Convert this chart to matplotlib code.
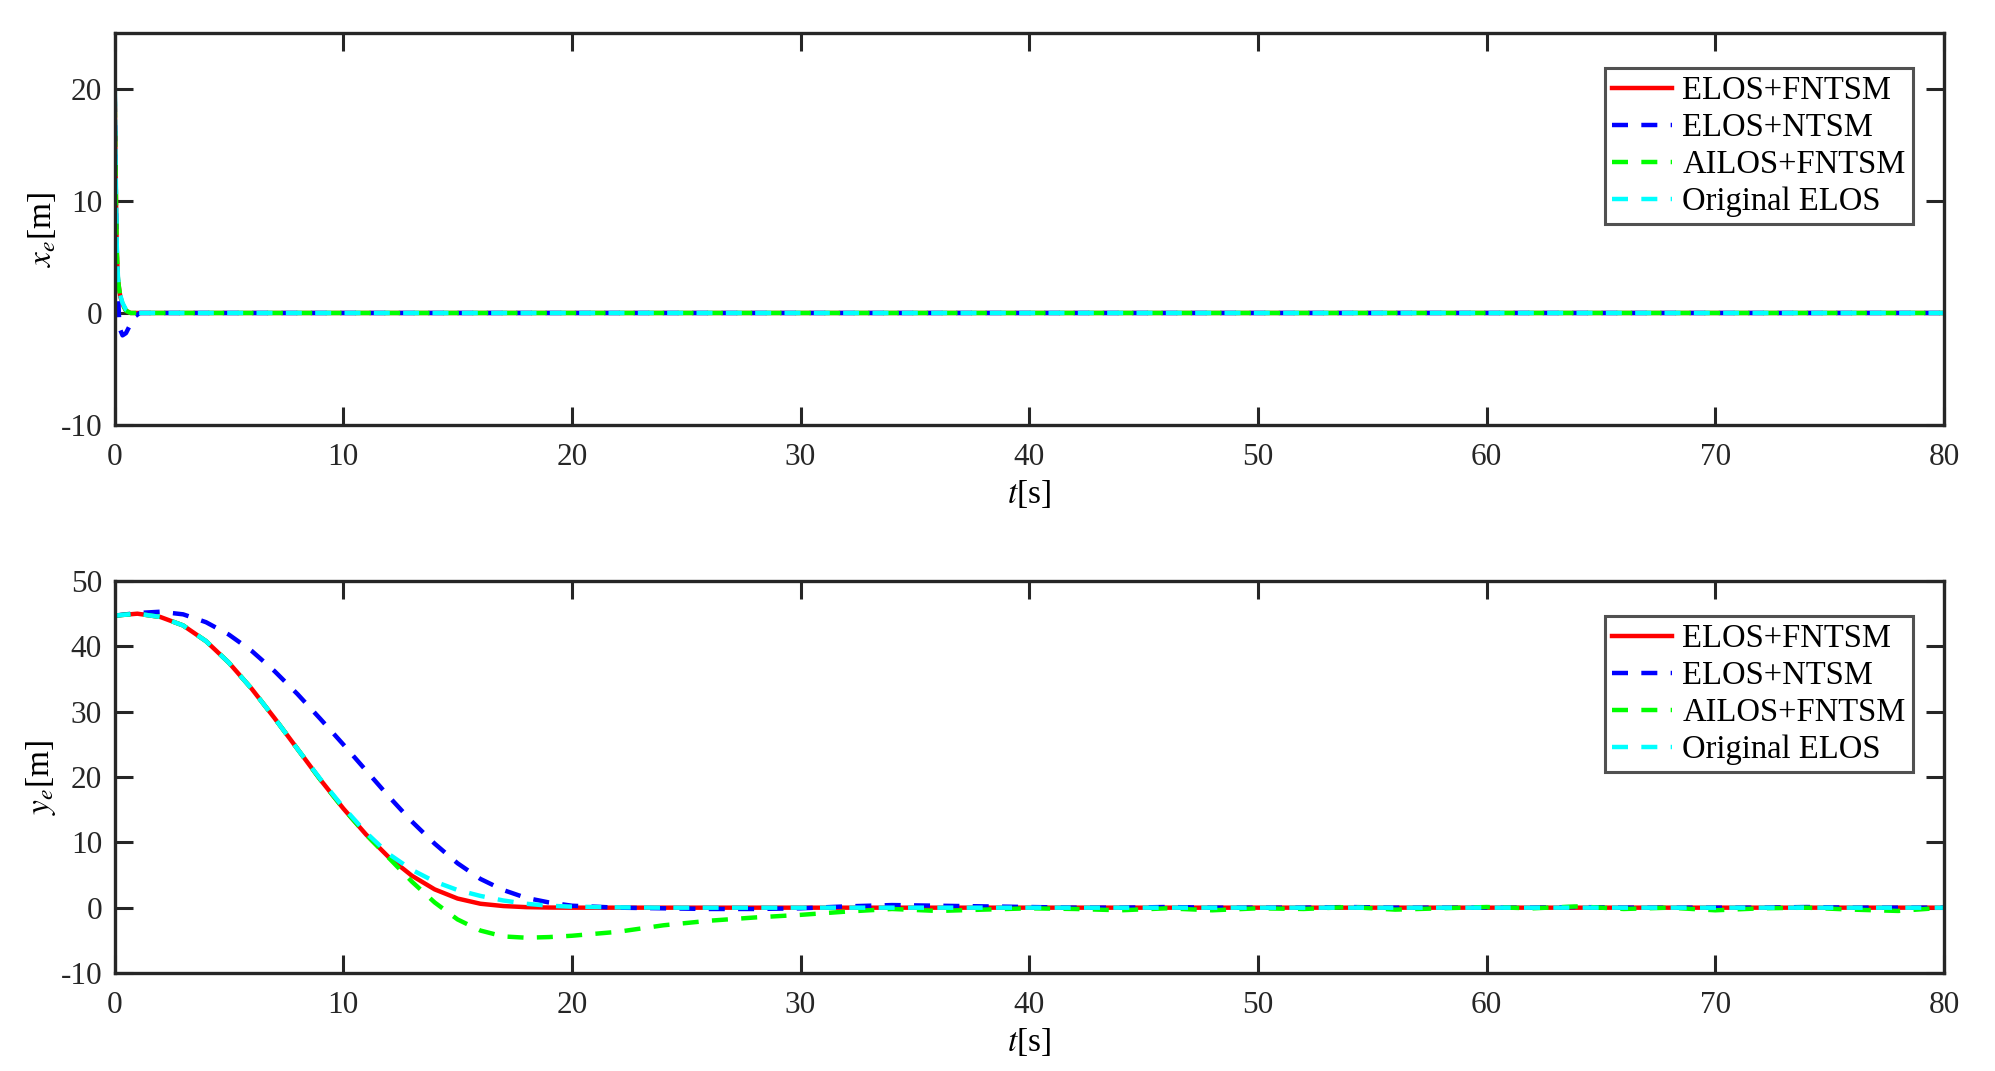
import numpy as np
import matplotlib
matplotlib.use('Agg')
import matplotlib.pyplot as plt

plt.rcParams['font.family'] = ['Liberation Serif', 'DejaVu Serif']
plt.rcParams['mathtext.fontset'] = 'stix'
plt.rcParams['axes.unicode_minus'] = False

# Series names and colours
names = ['ELOS+FNTSM', 'ELOS+NTSM', 'AILOS+FNTSM', 'Original ELOS']
colors = ['#ff0000', '#0000ff', '#00ff00', '#00ffff']

# x_e data (top plot)
t_x = [0, 0.05, 0.1, 0.15, 0.2, 0.25, 0.35, 0.5, 0.7, 0.9, 1.1, 5, 10, 20, 30, 40, 50, 60, 70, 80]
xe_fntsm = [21.5, 12, 5.5, 3, 2.2, 1.5, 0.8, 0.2, 0, 0, 0, 0, 0, 0, 0, 0, 0, 0, 0, 0]
xe_ntsm = [22, 11, 5, 2, -0.5, -1.5, -2, -1.8, -1, -0.3, 0, 0, 0, 0, 0, 0, 0, 0, 0, 0]
xe_ailos = [21.5, 12, 5.5, 3, 2.2, 1.5, 0.8, 0.2, 0, 0, 0, 0, 0, 0, 0, 0, 0, 0, 0, 0]
xe_orig = [22.5, 13, 6, 3.2, 2.3, 1.6, 0.9, 0.3, 0.05, 0, 0, 0, 0, 0, 0, 0, 0, 0, 0, 0]

# y_e data (bottom plot)
t_y = [0, 1, 2, 3, 4, 5, 6, 7, 8, 9, 10, 11, 12, 13, 14, 15, 16, 17, 18, 19, 20,
       22, 24, 26, 28, 30, 32, 34, 36, 38, 40, 42, 44, 46, 48, 50, 52, 54, 56, 58,
       60, 62, 64, 66, 68, 70, 72, 74, 76, 78, 80]
ye_fntsm = [44.7, 45, 44.5, 43.2, 40.8, 37.5, 33.5, 29, 24.3, 19.6, 15.2, 11.2, 7.7, 4.9, 2.8, 1.4, 0.6, 0.25, 0.08, 0.02, 0,
            0, 0, 0, 0, 0, 0, 0, 0, 0, 0, 0, 0, 0, 0, 0, 0, 0, 0, 0,
            0, 0, 0, 0, 0, 0, 0, 0, 0, 0, 0]
ye_ntsm = [44.7, 45.1, 45.3, 44.9, 43.7, 41.8, 39.3, 36.2, 32.7, 28.9, 25, 21, 17, 13.2, 9.8, 6.8, 4.4, 2.7, 1.5, 0.8, 0.3,
           0, -0.1, -0.2, -0.2, -0.1, 0.2, 0.4, 0.3, 0.2, 0.1, 0, 0, 0.1, 0, 0, 0, 0.1, 0, 0,
           0, 0, 0.1, 0, 0, 0, 0, 0.1, 0, 0, 0]
ye_ailos = [44.7, 45, 44.5, 43.2, 40.8, 37.5, 33.5, 29, 24.3, 19.6, 15.2, 11.2, 7.6, 4.0, 0.8, -1.8, -3.5, -4.4, -4.6, -4.5, -4.3,
            -3.7, -2.7, -2.0, -1.5, -1.1, -0.6, -0.2, -0.5, -0.3, -0.1, -0.2, -0.4, -0.1, -0.4, -0.1, -0.2, 0.1, -0.3, -0.1,
            0.1, -0.1, 0.2, -0.2, 0, -0.4, -0.1, 0, -0.3, -0.5, 0]
ye_orig = [44.7, 45, 44.5, 43.2, 40.8, 37.5, 33.5, 29, 24.3, 19.7, 15.4, 11.5, 8.2, 5.8, 4.0, 2.7, 1.8, 1.1, 0.6, 0.3, 0.15,
           0.05, 0, 0, 0, 0, 0, 0, 0, 0, 0, 0, 0, 0, 0, 0, 0, 0, 0, 0,
           0, 0, 0, 0, 0, 0, 0, 0, 0, 0, 0]

x_ticks = [0, 10, 20, 30, 40, 50, 60, 70, 80]
top_yticks = [-10, 0, 10, 20]
bot_yticks = [-10, 0, 10, 20, 30, 40, 50]

fig = plt.figure(figsize=(19.95, 10.71), dpi=100)
ax1 = fig.add_axes([0.0574, 0.6032, 0.917, 0.366])
ax2 = fig.add_axes([0.0574, 0.0915, 0.917, 0.366])

lw = 3.2
dash = (3.6, 3.0)


def style_axes(ax, yticks, ylim, ylab):
    ax.set_xlim(0, 80)
    ax.set_ylim(*ylim)
    ax.set_xticks(x_ticks)
    ax.set_yticks(yticks)
    ax.tick_params(direction='in', length=13, width=2.2, top=True, right=True,
                   labelsize=22.5, colors='#262626', pad=9)
    ax.tick_params(axis='x', pad=13)
    for sp in ax.spines.values():
        sp.set_linewidth(2.4)
        sp.set_color('#262626')
    ax.set_xlabel(r'$t$[s]', fontsize=24, labelpad=4)
    ax.set_ylabel(ylab, fontsize=24, labelpad=2)
    leg = ax.legend(loc='upper right', bbox_to_anchor=(0.983, 0.91), fontsize=23.5,
                    frameon=True, fancybox=False, edgecolor='#262626', handlelength=1.85,
                    handletextpad=0.3, borderpad=0.22, labelspacing=0.2, borderaxespad=0)
    leg.get_frame().set_linewidth(2.2)


# Top plot: x_e
ax1.plot(t_x, xe_fntsm, color=colors[0], lw=lw, label=names[0])
ax1.plot(t_x, xe_ntsm, color=colors[1], lw=lw, dashes=dash, label=names[1])
ax1.plot(t_x, xe_ailos, color=colors[2], lw=lw, dashes=dash, label=names[2])
ax1.plot(t_x, xe_orig, color=colors[3], lw=lw, dashes=dash, label=names[3])
style_axes(ax1, top_yticks, (-10, 25), r'$x_e$[m]')

# Bottom plot: y_e
ax2.plot(t_y, ye_fntsm, color=colors[0], lw=lw, label=names[0])
ax2.plot(t_y, ye_ntsm, color=colors[1], lw=lw, dashes=dash, label=names[1])
ax2.plot(t_y, ye_ailos, color=colors[2], lw=lw, dashes=dash, label=names[2])
ax2.plot(t_y, ye_orig, color=colors[3], lw=lw, dashes=dash, label=names[3])
style_axes(ax2, bot_yticks, (-10, 50), r'$y_e$[m]')

plt.savefig('out.png', dpi=100)
